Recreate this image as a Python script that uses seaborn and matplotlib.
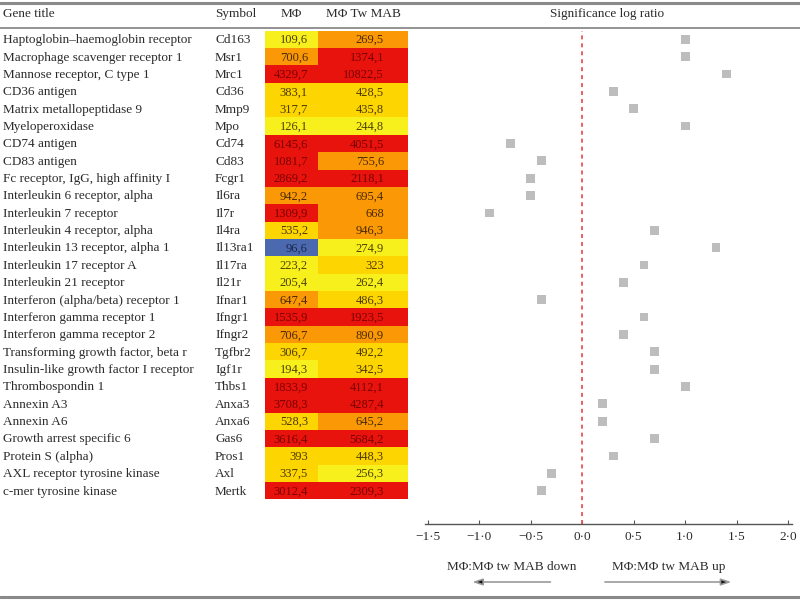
import numpy as np
import pandas as pd
import seaborn as sns
import matplotlib.pyplot as plt
from matplotlib.colors import ListedColormap
from matplotlib.lines import Line2D
import matplotlib.transforms as mtransforms

sns.set_style("white")
plt.rcParams.update({
    "font.family": ["Liberation Serif", "DejaVu Serif"],
    "font.size": 9.5})

genes = ["Haptoglobin\u2013haemoglobin receptor", "Macrophage scavenger receptor 1",
         "Mannose receptor, C type 1", "CD36 antigen", "Matrix metallopeptidase 9",
         "Myeloperoxidase", "CD74 antigen", "CD83 antigen",
         "Fc receptor, IgG, high affinity I", "Interleukin 6 receptor, alpha",
         "Interleukin 7 receptor", "Interleukin 4 receptor, alpha",
         "Interleukin 13 receptor, alpha 1", "Interleukin 17 receptor A",
         "Interleukin 21 receptor", "Interferon (alpha/beta) receptor 1",
         "Interferon gamma receptor 1", "Interferon gamma receptor 2",
         "Transforming growth factor, beta r", "Insulin-like growth factor I receptor",
         "Thrombospondin 1", "Annexin A3", "Annexin A6", "Growth arrest specific 6",
         "Protein S (alpha)", "AXL receptor tyrosine kinase", "c-mer tyrosine kinase"]
symbols = ["Cd163", "Msr1", "Mrc1", "Cd36", "Mmp9", "Mpo", "Cd74", "Cd83", "Fcgr1",
           "Il6ra", "Il7r", "Il4ra", "Il13ra1", "Il17ra", "Il21r", "Ifnar1", "Ifngr1",
           "Ifngr2", "Tgfbr2", "Igf1r", "Thbs1", "Anxa3", "Anxa6", "Gas6", "Pros1",
           "Axl", "Mertk"]
mf = [109.6, 700.6, 4329.7, 383.1, 317.7, 126.1, 6145.6, 1081.7, 2869.2, 942.2,
      1309.9, 535.2, 96.6, 223.2, 205.4, 647.4, 1535.9, 706.7, 306.7, 194.3,
      1833.9, 3708.3, 528.3, 3616.4, 393, 337.5, 3012.4]
mf_mab = [269.5, 1374.1, 10822.5, 428.5, 435.8, 244.8, 4051.5, 755.6, 2118.1, 695.4,
          668, 946.3, 274.9, 323, 262.4, 486.3, 1923.5, 890.9, 492.2, 342.5,
          4112.1, 4287.4, 645.2, 5684.2, 448.3, 256.3, 2309.3]
# colour class of each cell as printed (0 blue ... 4 red)
mf_level = [1, 3, 4, 2, 2, 1, 4, 4, 4, 3, 4, 2, 0, 1, 1, 3, 4, 3, 2, 1, 4, 4, 2, 4, 2, 2, 4]
mab_level = [3, 4, 4, 2, 2, 1, 4, 3, 4, 3, 3, 3, 1, 2, 1, 2, 4, 3, 2, 2, 4, 4, 3, 4, 2, 1, 4]
log_ratio = [1.0, 1.0, 1.4, 0.3, 0.5, 1.0, -0.7, -0.4, -0.5, -0.5, -0.9, 0.7, 1.3, 0.6,
             0.4, -0.4, 0.6, 0.4, 0.7, 0.7, 1.0, 0.2, 0.2, 0.7, 0.3, -0.3, -0.4]
x_ticks = [-1.5, -1.0, -0.5, 0.0, 0.5, 1.0, 1.5, 2.0]

level_colors = ["#4a69ae", "#f8f01c", "#fdd500", "#fb9806", "#e8130d"]
text_colors = ["#1c2850", "#4d4200", "#4d3a00", "#4a2a00", "#7a0000"]
cmap = ListedColormap(level_colors)

W, H = 800, 601
n = len(genes)
row_h = 17.36
y0 = 39.3  # centre of first row, px from top


def fx(px):
    return px / W


def fy(px):
    return 1 - px / H


def fmt(v):
    if float(v).is_integer():
        return str(int(v))
    return f"{v:.1f}".replace(".", ",")


fig = plt.figure(figsize=(8, 6.01), dpi=100)

top_px = y0 - row_h / 2
bot_px = y0 + row_h * (n - 0.5)

df = pd.DataFrame({"gene": genes, "symbol": symbols, "mf": mf, "mf_mab": mf_mab,
                   "mf_level": mf_level, "mab_level": mab_level, "ratio": log_ratio})

# two heat columns (different widths)
cols = [("mf", "mf_level", 265, 318, 308), ("mf_mab", "mab_level", 318, 408, 384)]
heat_axes = []
for val_col, lvl_col, x_l, x_r, x_txt in cols:
    ax = fig.add_axes([fx(x_l), fy(bot_px), fx(x_r - x_l), (bot_px - top_px) / H])
    sns.heatmap(df[[lvl_col]], ax=ax, cmap=cmap, vmin=-0.5, vmax=4.5, cbar=False,
                xticklabels=False, yticklabels=False)
    frac = (x_txt - x_l) / (x_r - x_l)
    for i, (v, l) in enumerate(zip(df[val_col], df[lvl_col])):
        ax.text(frac, i + 0.55, fmt(v), transform=mtransforms.blended_transform_factory(
            ax.transAxes, ax.transData), ha="right", va="center", fontsize=9,
            color=text_colors[l])
    heat_axes.append(ax)

tr = mtransforms.blended_transform_factory(fig.transFigure, heat_axes[0].transData)
for i, (g, s) in enumerate(zip(df["gene"], df["symbol"])):
    heat_axes[0].text(fx(3), i + 0.55, g, transform=tr, ha="left", va="center",
                      color="#2b2b2b", clip_on=False)
    heat_axes[0].text(fx(215), i + 0.55, s, transform=tr, ha="left", va="center",
                      color="#2b2b2b", clip_on=False)

# headers
hy = fy(14)
fig.text(fx(3), hy, "Gene title", ha="left", va="center", color="#2b2b2b")
fig.text(fx(215), hy, "Symbol", ha="left", va="center", color="#2b2b2b")
fig.text(fx(291), hy, "M\u03a6", ha="center", va="center", color="#2b2b2b")
fig.text(fx(363), hy, "M\u03a6 Tw MAB", ha="center", va="center", color="#2b2b2b")
fig.text(fx(607), hy, "Significance log ratio", ha="center", va="center", color="#2b2b2b")

# rules
for ypx, lw in [(3, 2.2), (27.5, 1.3), (597, 2.2)]:
    fig.add_artist(Line2D([0, 1], [fy(ypx), fy(ypx)], transform=fig.transFigure,
                          color="#8a8a8a", lw=lw))

# scatter of the log ratio
px_per = (788 - 428) / 3.5
axis_px = 524
ax_l, ax_r = 425, 792
ax_s = fig.add_axes([fx(ax_l), fy(axis_px), fx(ax_r - ax_l), (axis_px - top_px) / H])
df["row"] = np.arange(n)
sns.scatterplot(data=df, x="ratio", y="row", marker="s", s=40, color="#bdbdbd",
                edgecolor="none", ax=ax_s, legend=False)
ax_s.set_xlim(-1.5 - (428 - ax_l) / px_per, 2.0 + (ax_r - 788) / px_per)
ax_s.set_ylim((axis_px - y0) / row_h, -0.5)
ax_s.axvline(0, color="#e8545a", lw=1.3, ls=(0, (2.2, 2.2)))
for sp in ["top", "left", "right"]:
    ax_s.spines[sp].set_visible(False)
ax_s.spines["bottom"].set_color("#555555")
ax_s.spines["bottom"].set_linewidth(1.0)
ax_s.set_yticks([])
ax_s.set_xticks(x_ticks)
ax_s.set_xticklabels([f"{t:.1f}".replace(".", "\u00b7").replace("-", "\u2212") for t in x_ticks])
ax_s.tick_params(axis="x", direction="in", length=3, width=0.8, color="#555555",
                 pad=5, labelsize=9.5, labelcolor="#2b2b2b", bottom=True)
ax_s.set_xlabel("")
ax_s.set_ylabel("")
ax_s.patch.set_alpha(0)

trs = mtransforms.blended_transform_factory(ax_s.transData, fig.transFigure)
ax_s.text(-0.69, fy(567), "M\u03a6:M\u03a6 tw MAB down", transform=trs, ha="center",
          va="center", color="#2b2b2b")
ax_s.text(0.84, fy(567), "M\u03a6:M\u03a6 tw MAB up", transform=trs, ha="center",
          va="center", color="#2b2b2b")
for start, end in [(-0.31, -1.07), (0.22, 1.45)]:
    ax_s.annotate("", xy=(end, fy(582)), xytext=(start, fy(582)), xycoords=trs,
                  textcoords=trs, annotation_clip=False,
                  arrowprops=dict(arrowstyle="-|>,head_length=0.6,head_width=0.2",
                                  ec="#9a9a9a", fc="#111111", lw=1.2,
                                  mutation_scale=10, shrinkA=0, shrinkB=0))

plt.savefig("out.png", dpi=100)
plt.close()
